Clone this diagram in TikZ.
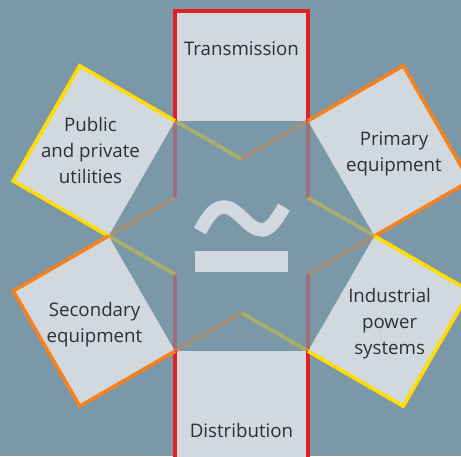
\documentclass[tikz,border=0pt]{standalone}
\usepackage{fontspec}
\setmainfont{Open Sans}
\definecolor{bg}{HTML}{7B98A8}
\definecolor{boxfill}{HTML}{D1D9DE}
\definecolor{redc}{HTML}{E31E24}
\definecolor{yelc}{HTML}{FFDD00}
\definecolor{orac}{HTML}{F5821F}
\definecolor{txt}{HTML}{2C3136}
\begin{document}
\begin{tikzpicture}[x=1pt,y=-1pt,
  border/.style={line width=3.6pt,line join=miter},
  faint/.style={line width=3.8pt,opacity=0.34},
  lbl/.style={text=txt,font=\fontsize{18.7}{26}\selectfont,align=center,inner sep=0pt}]
\useasboundingbox (0,0) rectangle (461,456);
\fill[bg] (0,0) rectangle (461,456);
\clip (0,0) rectangle (461,456);
% outer hexagon
\coordinate (H1) at (175,120.8);
\coordinate (H2) at (308,120.8);
\coordinate (H3) at (374.5,236);
\coordinate (H4) at (308,351.2);
\coordinate (H5) at (175,351.2);
\coordinate (H6) at (108.5,236);
% inner hexagram vertices
\coordinate (I1) at (241.5,159.2);
\coordinate (I2) at (308,197.6);
\coordinate (I3) at (308,274.4);
\coordinate (I4) at (241.5,312.8);
\coordinate (I5) at (175,274.4);
\coordinate (I6) at (175,197.6);
% outer corners
\coordinate (T1) at (175,10.8);   \coordinate (T2) at (308,10.8);
\coordinate (D1) at (175,461.2);  \coordinate (D2) at (308,461.2);
\coordinate (U1) at (79.74,65.8); \coordinate (U2) at (13.24,181);
\coordinate (P1) at (403.26,65.8);\coordinate (P2) at (469.76,181);
\coordinate (N1) at (469.76,291); \coordinate (N2) at (403.26,406.2);
\coordinate (S1) at (13.24,291);  \coordinate (S2) at (79.74,406.2);
% fills
\fill[boxfill] (H1)--(T1)--(T2)--(H2)--cycle;
\fill[boxfill] (H5)--(D1)--(D2)--(H4)--cycle;
\fill[boxfill] (H6)--(U2)--(U1)--(H1)--cycle;
\fill[boxfill] (H2)--(P1)--(P2)--(H3)--cycle;
\fill[boxfill] (H3)--(N1)--(N2)--(H4)--cycle;
\fill[boxfill] (H5)--(S2)--(S1)--(H6)--cycle;
% faint inner lines
\draw[faint,redc] (H1)--(I6) (H5)--(I5) (H2)--(I2) (H4)--(I3);
\draw[faint,yelc] (H1)--(I1) (H6)--(I5) (H4)--(I4) (H3)--(I2);
\draw[faint,orac] (H2)--(I1) (H3)--(I3) (H6)--(I6) (H5)--(I4);
% borders
\draw[border,redc] (H1)--(T1)--(T2)--(H2);
\draw[border,redc] (H5)--(D1)--(D2)--(H4);
\draw[border,yelc] (H6)--(U2)--(U1)--(H1);
\draw[border,orac] (H2)--(P1)--(P2)--(H3);
\draw[border,yelc] (H3)--(N1)--(N2)--(H4);
\draw[border,orac] (H5)--(S2)--(S1)--(H6);
% symbol
\draw[boxfill,line width=13.5pt,line cap=butt]
  (200,231) .. controls (205,222) and (212,207) .. (224,207)
  .. controls (238,207) and (248,230) .. (262,230)
  .. controls (271,230) and (278,217) .. (284,207);
\fill[boxfill] (195,250.7) rectangle (288,271.7);
% labels
\node[lbl,anchor=base] (trans) at (241.5,55) {Transmission};
\node[lbl,anchor=base] (distr) at (241.5,437) {Distribution};
\node[lbl] (pub) at (90.5,150) {Public\\and private\\utilities};
\node[lbl] (prim) at (394,153.5) {Primary\\equipment};
\node[lbl] (sec) at (94.5,324.5) {Secondary\\equipment};
\node[lbl] (ind) at (389.6,323.2) {Industrial\\power\\systems};
\end{tikzpicture}
\end{document}
